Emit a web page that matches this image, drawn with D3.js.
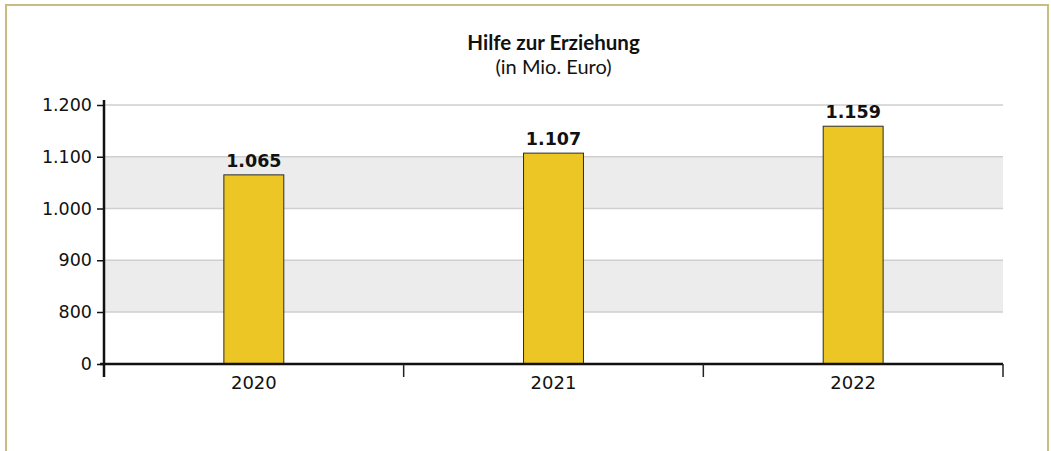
<!DOCTYPE html>
<html>
<head>
<meta charset="utf-8">
<script src="https://cdn.jsdelivr.net/npm/d3@7"></script>
<style>
  body { margin: 0; background: #fff; }
  svg { display: block; }
</style>
</head>
<body>
<div id="chart"></div>
<script>
// data
const years = ["2020", "2021", "2022"];
const values = [1065, 1107, 1159];
const yTicks = [0, 800, 900, 1000, 1100, 1200];
const shadedBands = [[800, 900], [1000, 1100]];

const width = 1051;
const height = 451;

const svg = d3.select("#chart")
  .append("svg")
  .attr("width", width)
  .attr("height", height);

// frame round the whole chart (no bottom edge)
svg.append("path")
  .attr("d", `M6,${height} V5 H1048 V${height}`)
  .attr("fill", "none")
  .attr("stroke", "#c9bb84")
  .attr("stroke-width", 2);

// German number format: 1.200
const de = d3.formatLocale({ decimal: ",", thousands: ".", grouping: [3], currency: ["", " €"] });
const fmt = de.format(",d");

const left = 104, right = 1003;

const x = d3.scaleBand()
  .domain(years)
  .range([left, right])
  .paddingInner(0.8)
  .paddingOuter(0.4);

// broken axis: 0 -> 800 squeezed into one step
const y = d3.scaleLinear()
  .domain([0, 800, 1200])
  .range([364, 312, 105]);

// shaded bands
svg.selectAll("rect.band")
  .data(shadedBands)
  .enter()
  .append("rect")
  .attr("class", "band")
  .attr("x", left)
  .attr("width", right - left)
  .attr("y", d => y(d[1]))
  .attr("height", d => y(d[0]) - y(d[1]))
  .attr("fill", "#ebeceb");

// grid lines
svg.selectAll("line.grid")
  .data(yTicks.filter(d => d > 0))
  .enter()
  .append("line")
  .attr("class", "grid")
  .attr("x1", left)
  .attr("x2", right)
  .attr("y1", d => y(d))
  .attr("y2", d => y(d))
  .attr("stroke", "#cfcfcf")
  .attr("stroke-width", 1.5);

// bars
svg.selectAll("rect.bar")
  .data(values)
  .enter()
  .append("rect")
  .attr("class", "bar")
  .attr("x", (d, i) => x(years[i]))
  .attr("width", x.bandwidth())
  .attr("y", d => y(d))
  .attr("height", d => y(0) - y(d))
  .attr("fill", "#ebc625")
  .attr("stroke", "#2b2b2b")
  .attr("stroke-width", 1);

// value labels
svg.selectAll("text.value")
  .data(values)
  .enter()
  .append("text")
  .attr("class", "value")
  .attr("x", (d, i) => x(years[i]) + x.bandwidth() / 2)
  .attr("y", d => y(d) - 8)
  .attr("text-anchor", "middle")
  .attr("font-family", "DejaVu Sans")
  .attr("font-weight", "bold")
  .attr("font-size", 17.5)
  .attr("fill", "#111")
  .text(d => fmt(d));

// y axis
const yAxis = svg.append("g")
  .attr("transform", `translate(${left},0)`)
  .call(d3.axisLeft(y).tickValues(yTicks).tickFormat(fmt).tickSize(7).tickPadding(5));
yAxis.select(".domain").remove();
yAxis.selectAll(".tick line").attr("stroke", "#111").attr("stroke-width", 1.5);
yAxis.selectAll(".tick text")
  .attr("font-family", "DejaVu Sans")
  .attr("font-size", 17.5)
  .attr("fill", "#111");
yAxis.append("line")
  .attr("y1", y(1200) - 5)
  .attr("y2", y(0) + 13)
  .attr("stroke", "#111")
  .attr("stroke-width", 2.5);

// x axis: labels under bars, ticks between categories
const xAxis = svg.append("g")
  .attr("transform", `translate(0,${y(0)})`)
  .call(d3.axisBottom(x).tickSize(0).tickPadding(12));
xAxis.select(".domain").remove();
xAxis.selectAll(".tick text")
  .attr("font-family", "DejaVu Sans")
  .attr("font-size", 18)
  .attr("fill", "#111");
xAxis.append("line")
  .attr("x1", left - 4)
  .attr("x2", right)
  .attr("stroke", "#111")
  .attr("stroke-width", 2.5);
xAxis.selectAll("line.sep")
  .data(years)
  .enter()
  .append("line")
  .attr("class", "sep")
  .attr("x1", d => x(d) + x.bandwidth() / 2 + x.step() / 2)
  .attr("x2", d => x(d) + x.bandwidth() / 2 + x.step() / 2)
  .attr("y1", 0)
  .attr("y2", 13)
  .attr("stroke", "#222")
  .attr("stroke-width", 1.5);

// title
svg.append("text")
  .attr("x", (left + right) / 2)
  .attr("y", 50)
  .attr("text-anchor", "middle")
  .attr("font-family", "Lato")
  .attr("font-weight", "bold")
  .attr("font-size", 20.5)
  .attr("fill", "#111")
  .text("Hilfe zur Erziehung");

svg.append("text")
  .attr("x", (left + right) / 2)
  .attr("y", 74)
  .attr("text-anchor", "middle")
  .attr("font-family", "Lato")
  .attr("font-size", 20)
  .attr("fill", "#111")
  .text("(in Mio. Euro)");
</script>
</body>
</html>
